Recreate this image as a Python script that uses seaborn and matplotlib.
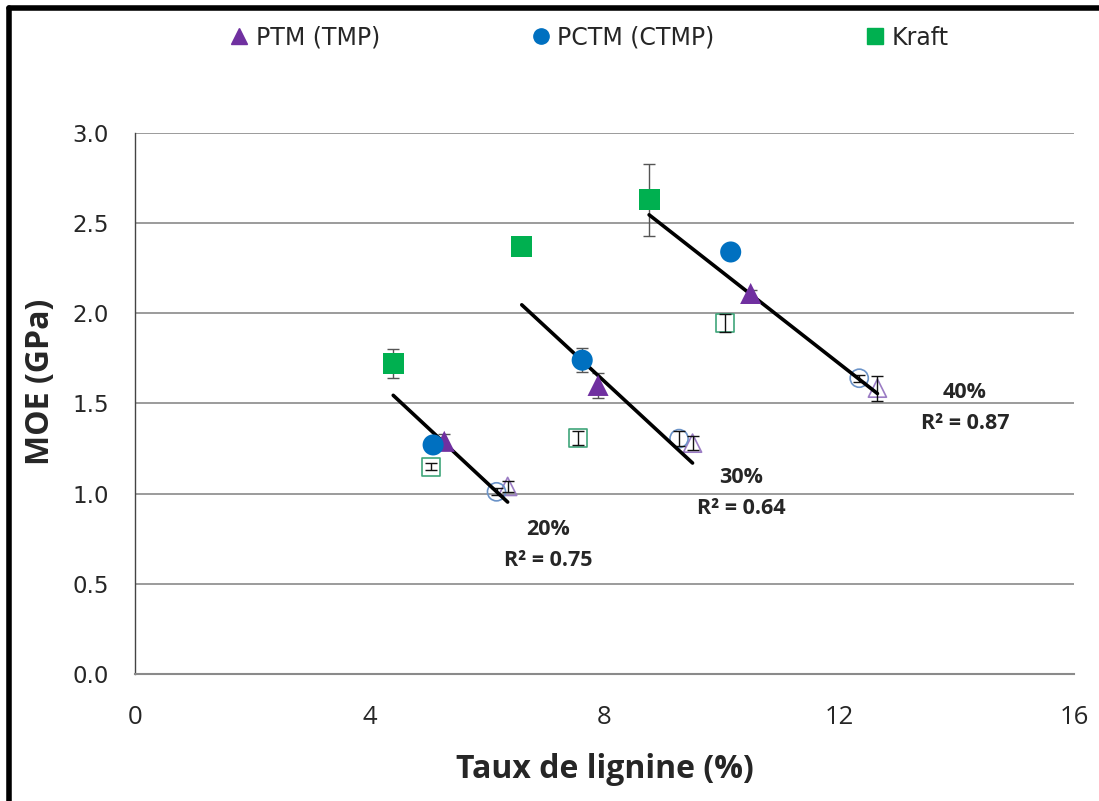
import numpy as np
import pandas as pd
import matplotlib
matplotlib.use('Agg')
import matplotlib.pyplot as plt
import seaborn as sns
from matplotlib.lines import Line2D

# values (x = lignin %, y = MOE GPa)
levels = ['20%', '30%', '40%']
pulps = ['PTM (TMP)', 'PCTM (CTMP)', 'Kraft']

# filled markers
ptm_x = [5.27, 7.89, 10.49]
ptm_y = [1.29, 1.60, 2.11]
ptm_err = [0.04, 0.07, 0.02]
pctm_x = [5.08, 7.62, 10.15]
pctm_y = [1.27, 1.74, 2.34]
pctm_err = [0.0, 0.065, 0.0]
kraft_x = [4.40, 6.59, 8.76]
kraft_y = [1.72, 2.37, 2.63]
kraft_err = [0.08, 0.0, 0.20]

# hollow markers
ptm_h_x = [6.35, 9.50, 12.65]
ptm_h_y = [1.04, 1.28, 1.585]
ptm_h_err = [0.03, 0.04, 0.07]
pctm_h_x = [6.16, 9.27, 12.34]
pctm_h_y = [1.01, 1.305, 1.64]
pctm_h_err = [0.02, 0.04, 0.02]
kraft_h_x = [5.04, 7.55, 10.05]
kraft_h_y = [1.15, 1.31, 1.945]
kraft_h_err = [0.02, 0.04, 0.05]

r2_labels = ['R² = 0.75', 'R² = 0.64', 'R² = 0.87']
label_x = [7.04, 10.33, 14.14]
label_y = [0.80, 1.09, 1.56]

colors = {'PTM (TMP)': '#7030A0', 'PCTM (CTMP)': '#0070C0', 'Kraft': '#00B050'}
hollow_colors = {'PTM (TMP)': '#9B7CC4', 'PCTM (CTMP)': '#6B93C8', 'Kraft': '#3FA57A'}
markers = {'PTM (TMP)': '^', 'PCTM (CTMP)': 'o', 'Kraft': 's'}

rows = []
for pulp, xs, ys, es, xh, yh, eh in [
        ('PTM (TMP)', ptm_x, ptm_y, ptm_err, ptm_h_x, ptm_h_y, ptm_h_err),
        ('PCTM (CTMP)', pctm_x, pctm_y, pctm_err, pctm_h_x, pctm_h_y, pctm_h_err),
        ('Kraft', kraft_x, kraft_y, kraft_err, kraft_h_x, kraft_h_y, kraft_h_err)]:
    for i, lev in enumerate(levels):
        rows.append(dict(pulp=pulp, level=lev, x=xs[i], y=ys[i], err=es[i], filled=True))
        rows.append(dict(pulp=pulp, level=lev, x=xh[i], y=yh[i], err=eh[i], filled=False))
df = pd.DataFrame(rows)

sns.set_style('white')
plt.rcParams['font.family'] = ['DejaVu Sans']
calibri_like = ['Open Sans', 'DejaVu Sans']

fig = plt.figure(figsize=(10.99, 8.01), dpi=100)
ax = fig.add_axes([0.1228, 0.1586, 0.8545, 0.6754])

ax.set_xlim(0, 16)
ax.set_ylim(0, 3.0)
ax.set_yticks(np.arange(0, 3.01, 0.5))
ax.set_xticks([0, 4, 8, 12, 16])
ax.yaxis.grid(True, color='#8a8a8a', lw=1.2)
ax.set_axisbelow(True)

# trend lines (linear fit of the six points of each level)
for lev in levels:
    d = df[df.level == lev]
    k, b = np.polyfit(d.x, d.y, 1)
    xx = np.array([d.x.min(), d.x.max()])
    ax.plot(xx, k * xx + b, color='black', lw=2.6, zorder=4)

# error bars
for filled, ecol in [(True, '#555555'), (False, '#111111')]:
    d = df[(df.filled == filled) & (df.err > 0)]
    ax.errorbar(d.x, d.y, yerr=d.err, fmt='none', ecolor=ecol, elinewidth=1,
                capsize=4, capthick=1, zorder=3)

# hollow markers
for pulp in pulps:
    d = df[(df.pulp == pulp) & (~df.filled)]
    ax.scatter(d.x, d.y, marker=markers[pulp], s=170, facecolors='none',
               edgecolors=hollow_colors[pulp], linewidths=1.2, zorder=2)

# filled markers
sns.scatterplot(data=df[df.filled], x='x', y='y', hue='pulp', style='pulp',
                palette=colors, markers=markers, hue_order=pulps, style_order=pulps,
                s=230, edgecolor='none', linewidth=0, legend=False, ax=ax, zorder=5)

for lev, r2, lx, ly in zip(levels, r2_labels, label_x, label_y):
    ax.text(lx, ly, lev, ha='center', va='center', fontsize=15.5, fontweight='bold',
            family=calibri_like)
    ax.text(lx, ly - 0.17, r2, ha='center', va='center', fontsize=15.5, fontweight='bold',
            family=calibri_like)

for s in ['top', 'right']:
    ax.spines[s].set_visible(False)
ax.spines['left'].set_color('#444444')
ax.spines['left'].set_linewidth(1)
ax.spines['bottom'].set_color('#8a8a8a')
ax.spines['bottom'].set_linewidth(1.5)
ax.tick_params(axis='y', direction='out', length=8, width=1, color='#444444',
               labelsize=16.5, pad=11)
ax.tick_params(axis='x', direction='out', length=9, width=1, color='#8a8a8a',
               labelsize=18.5, pad=13)
ax.set_yticklabels([f'{v:.1f}' for v in np.arange(0, 3.01, 0.5)])
ax.set_xticklabels(['0', '4', '8', '12', '16'], family=calibri_like)

ax.set_xlabel('Taux de lignine (%)', fontsize=23, fontweight='bold',
              family=calibri_like, labelpad=17)
ax.set_ylabel('MOE (GPa)', fontsize=23, fontweight='bold', family=calibri_like)
ax.yaxis.set_label_coords(-0.083, 0.54)

handles = [Line2D([], [], marker=markers[p], color=colors[p], ls='none', markersize=11)
           for p in pulps]
fig.legend(handles, pulps, loc='center', bbox_to_anchor=(0.535, 0.953), ncol=3,
           frameon=False, columnspacing=6.3, handletextpad=0.2, handlelength=1,
           prop={'family': ['DejaVu Sans'], 'size': 17})

# outer frame (top and left only)
fig.add_artist(Line2D([0.008, 1.0], [0.99, 0.99], color='black', lw=4,
                      transform=fig.transFigure))
fig.add_artist(Line2D([0.0085, 0.0085], [0.0, 0.99], color='black', lw=4,
                      transform=fig.transFigure))

fig.savefig('out.png', dpi=100)
